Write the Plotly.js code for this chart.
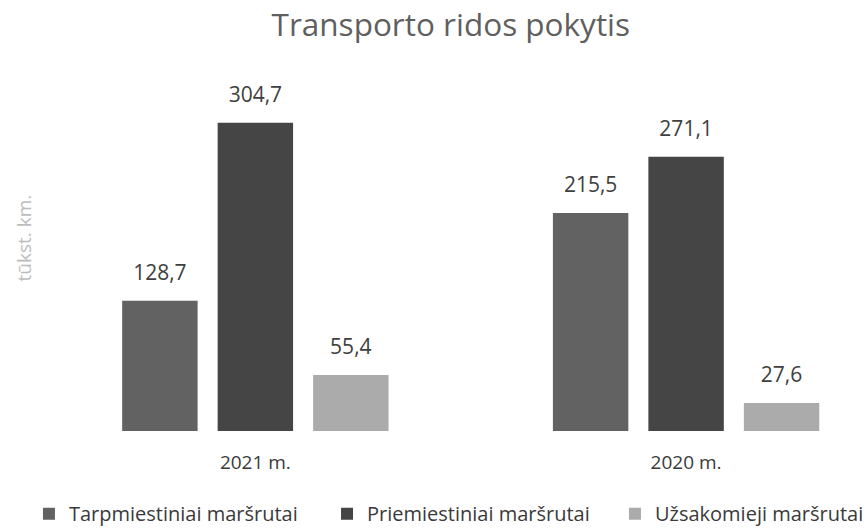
<!DOCTYPE html>
<html>
<head>
<meta charset="utf-8">
<script src="https://cdn.plot.ly/plotly-3.0.1.min.js"></script>
<style>html,body{margin:0;padding:0;background:#fff}#chart{width:867px;height:529px}</style>
</head>
<body>
<div id="chart"></div>
<script>
const categories = ['2021 m.', '2020 m.'];
const seriesNames = ['Tarpmiestiniai maršrutai', 'Priemiestiniai maršrutai', 'Užsakomieji maršrutai'];
const tarpmiestiniai = [128.7, 215.5];
const priemiestiniai = [304.7, 271.1];
const uzsakomieji = [55.4, 27.6];
const colors = ['#626262', '#454545', '#ababab'];

const FONT = '"Open Sans", Lato, sans-serif';
const values = [tarpmiestiniai, priemiestiniai, uzsakomieji];
const legendIds = ['legend', 'legend2', 'legend3'];
const legendX = [0.0334, 0.3772, 0.7093];

const traces = values.map((v, i) => ({
  type: 'bar',
  name: seriesNames[i],
  legend: legendIds[i],
  x: categories,
  y: v,
  marker: {color: colors[i]},
  texttemplate: '<span style="font-size:21px">%{y:.1f}</span><br><span style="font-size:2px"> </span>',
  textposition: 'outside',
  constraintext: 'none',
  cliponaxis: false,
  textfont: {family: FONT, size: 13, color: '#404040'},
  hoverinfo: 'none'
}));

const layout = {
  width: 867, height: 529,
  margin: {l: 40, r: 0, t: 80, b: 98, autoexpand: false},
  paper_bgcolor: '#fff', plot_bgcolor: '#fff',
  separators: ', ',
  title: {text: 'Transporto ridos pokytis', xref: 'container', x: 0.52, xanchor: 'center', y: 0.953, yanchor: 'middle',
          font: {family: FONT, size: 31.5, color: '#5f5f5f'}},
  barmode: 'group',
  bargap: 0.335,
  bargroupgap: 0.21,
  showlegend: true,
  xaxis: {type: 'category', range: [-0.5, 1.42], showgrid: false, zeroline: false, showline: false,
          ticks: 'outside', ticklen: 14, tickcolor: 'rgba(0,0,0,0)',
          tickfont: {family: FONT, size: 19, color: '#3a3a3a'}},
  yaxis: {range: [0, 347], showgrid: false, zeroline: false, showline: false, showticklabels: false},
  annotations: [{text: 'tūkst. km.', xref: 'paper', yref: 'paper', x: -0.02, y: 0.55,
                 xanchor: 'center', yanchor: 'middle', textangle: -90, showarrow: false,
                 font: {family: FONT, size: 19, color: '#bcbcbc'}}]
};
legendIds.forEach((id, i) => {
  layout[id] = {orientation: 'h', xref: 'container', yref: 'container', x: legendX[i], xanchor: 'left',
                y: 0.029, yanchor: 'middle', font: {family: FONT, size: 20, color: '#3a3a3a'},
                itemwidth: 30, bgcolor: 'rgba(0,0,0,0)'};
});

Plotly.newPlot('chart', traces, layout, {displayModeBar: false, staticPlot: true});
</script>
</body>
</html>
